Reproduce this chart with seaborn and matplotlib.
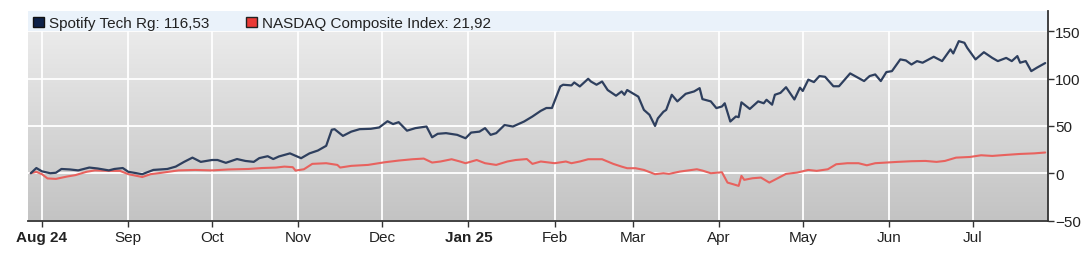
import numpy as np
import pandas as pd
import matplotlib
matplotlib.use("Agg")
import matplotlib.pyplot as plt
import matplotlib.dates as mdates
from matplotlib.colors import LinearSegmentedColormap
from matplotlib.patches import Patch
import seaborn as sns

# ---------------- data ----------------
spot_dates = [
    "2024-07-28", "2024-07-30", "2024-08-01", "2024-08-04", "2024-08-06", "2024-08-08", "2024-08-11",
    "2024-08-14", "2024-08-18", "2024-08-21", "2024-08-25", "2024-08-27", "2024-08-30", "2024-09-01",
    "2024-09-04", "2024-09-06", "2024-09-10", "2024-09-15", "2024-09-18", "2024-09-21", "2024-09-24",
    "2024-09-27", "2024-10-01", "2024-10-03", "2024-10-06", "2024-10-10", "2024-10-13", "2024-10-16",
    "2024-10-18", "2024-10-21", "2024-10-23", "2024-10-25", "2024-10-29", "2024-10-31", "2024-11-02",
    "2024-11-05", "2024-11-08", "2024-11-11", "2024-11-13", "2024-11-14", "2024-11-17", "2024-11-20",
    "2024-11-23", "2024-11-27", "2024-11-30", "2024-12-03", "2024-12-05", "2024-12-07", "2024-12-10",
    "2024-12-13", "2024-12-17", "2024-12-19", "2024-12-21", "2024-12-24", "2024-12-28", "2024-12-31",
    "2025-01-02", "2025-01-05", "2025-01-07", "2025-01-09", "2025-01-11", "2025-01-14", "2025-01-17",
    "2025-01-21", "2025-01-24", "2025-01-27", "2025-01-29", "2025-01-31", "2025-02-03", "2025-02-04",
    "2025-02-07", "2025-02-08", "2025-02-10", "2025-02-13", "2025-02-14", "2025-02-16", "2025-02-18",
    "2025-02-20", "2025-02-23", "2025-02-25", "2025-02-26", "2025-02-27", "2025-03-03", "2025-03-05",
    "2025-03-07", "2025-03-09", "2025-03-10", "2025-03-12", "2025-03-13", "2025-03-15", "2025-03-17",
    "2025-03-20", "2025-03-23", "2025-03-25", "2025-03-26", "2025-03-29", "2025-03-31", "2025-04-02",
    "2025-04-03", "2025-04-05", "2025-04-07", "2025-04-08", "2025-04-09", "2025-04-12", "2025-04-15",
    "2025-04-17", "2025-04-18", "2025-04-20", "2025-04-21", "2025-04-23", "2025-04-25", "2025-04-28",
    "2025-04-30", "2025-05-01", "2025-05-03", "2025-05-05", "2025-05-07", "2025-05-09", "2025-05-12",
    "2025-05-14", "2025-05-18", "2025-05-23", "2025-05-25", "2025-05-27", "2025-05-29", "2025-05-31",
    "2025-06-02", "2025-06-05", "2025-06-07", "2025-06-09", "2025-06-11", "2025-06-13", "2025-06-17",
    "2025-06-20", "2025-06-23", "2025-06-24", "2025-06-26", "2025-06-28", "2025-06-29", "2025-07-02",
    "2025-07-05", "2025-07-08", "2025-07-10", "2025-07-13", "2025-07-15", "2025-07-17", "2025-07-18",
    "2025-07-20", "2025-07-22", "2025-07-24", "2025-07-27",
]
spot_values = [
    0, 5.5, 2, 0, 0.5, 4.5, 4,
    3, 6, 5, 3, 4.5, 5.5, 1.5,
    0, -1, 3.5, 4.5, 7, 12, 16.5,
    12, 14, 14, 11, 15, 13, 12,
    16, 18, 15, 17.7, 21, 18.4, 15.9,
    21, 24, 29, 46, 46.6, 39.5, 44,
    46.6, 47, 48.4, 55, 52, 54, 45,
    47.7, 49.4, 38, 41.7, 42.4, 40.6, 37,
    43, 44, 47.7, 40.6, 42.4, 51, 49.4,
    54.7, 60, 66, 69, 69, 91.8, 93.6,
    92.9, 96, 91.8, 99.9, 97, 93.6, 97,
    88, 82, 86.5, 83, 88, 81, 67,
    61.8, 50, 58, 65, 67, 83, 76,
    84, 86.5, 90, 78.4, 76, 68.9, 70.6,
    74, 54.7, 60, 59.3, 75, 68, 76,
    74, 77.7, 72.5, 83, 85, 91, 78,
    90.5, 87, 99, 96.4, 102.8, 102, 92,
    92, 105.6, 97.5, 102.8, 104.5, 97.5, 107,
    108, 120.4, 119.3, 115, 118.6, 116.9, 123.2,
    118.6, 131, 126.7, 139.7, 138, 132.7, 120.4,
    128, 122, 118.6, 122, 118.6, 123.9, 116.9,
    118.6, 108, 111.6, 116.53,
]

ndx_dates = [
    "2024-07-28", "2024-07-30", "2024-08-01", "2024-08-03", "2024-08-06", "2024-08-10", "2024-08-13",
    "2024-08-17", "2024-08-20", "2024-08-25", "2024-08-29", "2024-09-01", "2024-09-06", "2024-09-09",
    "2024-09-13", "2024-09-19", "2024-09-25", "2024-10-01", "2024-10-07", "2024-10-14", "2024-10-19",
    "2024-10-24", "2024-10-27", "2024-10-30", "2024-10-31", "2024-11-03", "2024-11-06", "2024-11-11",
    "2024-11-15", "2024-11-16", "2024-11-20", "2024-11-26", "2024-12-02", "2024-12-07", "2024-12-12",
    "2024-12-16", "2024-12-19", "2024-12-22", "2024-12-26", "2024-12-29", "2024-12-31", "2025-01-04",
    "2025-01-07", "2025-01-11", "2025-01-15", "2025-01-18", "2025-01-22", "2025-01-24", "2025-01-27",
    "2025-02-01", "2025-02-05", "2025-02-07", "2025-02-10", "2025-02-13", "2025-02-18", "2025-02-22",
    "2025-02-25", "2025-02-27", "2025-03-02", "2025-03-05", "2025-03-09", "2025-03-12", "2025-03-14",
    "2025-03-18", "2025-03-24", "2025-03-26", "2025-03-29", "2025-04-02", "2025-04-04", "2025-04-06",
    "2025-04-08", "2025-04-09", "2025-04-10", "2025-04-13", "2025-04-16", "2025-04-19", "2025-04-22",
    "2025-04-25", "2025-04-29", "2025-05-03", "2025-05-06", "2025-05-10", "2025-05-13", "2025-05-17",
    "2025-05-21", "2025-05-24", "2025-05-27", "2025-05-31", "2025-06-04", "2025-06-09", "2025-06-14",
    "2025-06-18", "2025-06-21", "2025-06-25", "2025-06-30", "2025-07-04", "2025-07-08", "2025-07-13",
    "2025-07-18", "2025-07-23", "2025-07-27",
]
ndx_values = [
    0, 1.5, -1, -5.5, -6, -3.5, -2,
    1.5, 3, 2.5, 2.5, -1, -4, -1,
    0.5, 3, 3.5, 3, 4, 4.5, 5.5,
    6, 7, 6.4, 2.8, 4.2, 9.9, 10.6,
    8.8, 6, 7.8, 8.8, 11.6, 13.4, 14.8,
    15.5, 11.3, 12.4, 14.8, 12.4, 10.6, 14,
    10.6, 8.8, 12.4, 14, 15, 9.9, 12.4,
    10.6, 12.4, 10.6, 12.4, 14.8, 14.8, 9.9,
    7, 5.3, 5.3, 3.5, -1, 0, -0.7,
    1.8, 4.2, 2.8, 0, 1, -9.9, -11.6,
    -13.4, -2.8, -7, -5.3, -4.6, -9.9, -5.3,
    -0.7, 0.7, 3.5, 2.5, 4.2, 9.5, 10.6,
    10.6, 8.4, 10.6, 11.3, 12, 12.7, 13,
    12, 13, 16.5, 17.2, 19, 18.3, 19.4,
    20.4, 21, 21.92,
]

series_names = ["Spotify Tech Rg: 116,53", "NASDAQ Composite Index: 21,92"]
month_labels = ["Aug 24", "Sep", "Oct", "Nov", "Dec", "Jan 25",
                "Feb", "Mar", "Apr", "May", "Jun", "Jul"]
bold_labels = ["Aug 24", "Jan 25"]
y_ticks = [-50, 0, 50, 100, 150]

# ---------------- style ----------------
sns.set_style("white")
plt.rcParams["font.family"] = ["Liberation Sans", "DejaVu Sans"]

SPOT_C = "#2e3f5e"
NDX_C = "#e8625e"

fig = plt.figure(figsize=(10.86, 2.55), dpi=100)
ax = fig.add_axes([28 / 1086, 1 - 221.5 / 255, (1048 - 28) / 1086, (221.5 - 12) / 255])

ymin, ymax = -50, 171.6
x0, x1 = pd.Timestamp("2024-07-27"), pd.Timestamp("2025-07-28")

# gradient background
grad = np.linspace(0, 1, 256).reshape(-1, 1)
cmap = LinearSegmentedColormap.from_list("bg", ["#efefef", "#c3c3c3"])
ax.imshow(grad, cmap=cmap, aspect="auto", zorder=0,
          extent=[mdates.date2num(x0), mdates.date2num(x1), ymin, ymax])

# legend band
ax.axhspan(150, ymax, color="#eaf2fa", zorder=1, lw=0)

df_spot = pd.DataFrame({"date": pd.to_datetime(spot_dates), "value": spot_values})
df_ndx = pd.DataFrame({"date": pd.to_datetime(ndx_dates), "value": ndx_values})

sns.lineplot(data=df_ndx, x="date", y="value", ax=ax, color=NDX_C, lw=1.5, zorder=3)
sns.lineplot(data=df_spot, x="date", y="value", ax=ax, color=SPOT_C, lw=1.6, zorder=4)

ax.set_xlim(x0, x1)
ax.set_ylim(ymin, ymax)
ax.set_xlabel("")
ax.set_ylabel("")

# grid
ax.set_axisbelow(True)
ax.grid(True, color="white", lw=1.3, zorder=0.5)

# ticks
month_starts = pd.date_range("2024-08-01", "2025-07-01", freq="MS")
ax.set_xticks(month_starts)
ax.set_xticklabels(month_labels)
for lab in ax.get_xticklabels():
    if lab.get_text() in bold_labels:
        lab.set_fontweight("bold")
ax.set_yticks(y_ticks)
ax.yaxis.tick_right()
ax.tick_params(axis="x", direction="out", length=4, width=1, color="#333333",
               labelsize=11, labelcolor="#222222", pad=3, bottom=True)
ax.tick_params(axis="y", direction="out", length=4, width=1, color="#333333",
               labelsize=11, labelcolor="#222222", pad=1, right=True, left=False)

for side in ["left", "top"]:
    ax.spines[side].set_visible(False)
for side in ["bottom", "right"]:
    ax.spines[side].set_color("#333333")
    ax.spines[side].set_linewidth(1.3)

# legend
handles = [Patch(facecolor="#0e2148", edgecolor="#111111", lw=1),
           Patch(facecolor="#ea3a36", edgecolor="#222222", lw=1)]
ax.legend(handles, series_names, loc="upper left", bbox_to_anchor=(0.0, 1.0),
          ncol=2, frameon=False, fontsize=11, handlelength=0.7, handleheight=0.7,
          handletextpad=0.35, columnspacing=2.4, borderaxespad=0.15, borderpad=0.2,
          labelcolor="#222222")

fig.savefig("out.png", dpi=100)
